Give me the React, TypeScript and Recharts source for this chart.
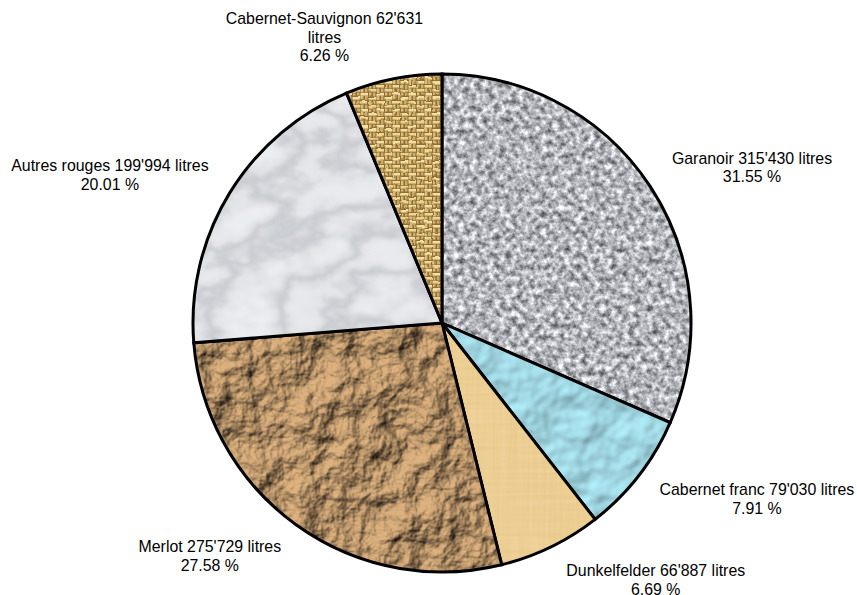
import React from "react";
import { PieChart, Pie, Cell } from "recharts";

const names = ["Garanoir", "Cabernet franc", "Dunkelfelder", "Merlot", "Autres rouges", "Cabernet-Sauvignon"];
const litres = [315430, 79030, 66887, 275729, 199994, 62631];
const percents = ["31.55 %", "7.91 %", "6.69 %", "27.58 %", "20.01 %", "6.26 %"];
const textures = ["granite", "water", "linen", "kraft", "marble", "burlap"];

const W = 857;
const H = 595;
const RAD = Math.PI / 180;
const FONT = 15.9;
const LINE = 18.7;
const FAMILY = "Liberation Sans, Arial, sans-serif";

const data = names.map((name, i) => ({ name, value: litres[i] }));
const clamp = (v: number, a: number, b: number) => Math.min(b, Math.max(a, v));

function wrap(s: string, max = 30): string[] {
  const out: string[] = [];
  let cur = "";
  for (const w of s.split(" ")) {
    if (cur && (cur + " " + w).length > max) {
      out.push(cur);
      cur = w;
    } else cur = cur ? cur + " " + w : w;
  }
  if (cur) out.push(cur);
  return out;
}

const fmt = (n: number) => String(n).replace(/\B(?=(\d{3})+$)/g, "'");

function textWidth(s: string): number {
  const ctx = document.createElement("canvas").getContext("2d");
  if (!ctx) return s.length * FONT * 0.5;
  ctx.font = `${FONT}px ${FAMILY}`;
  return ctx.measureText(s).width;
}

function renderLabel(p: any) {
  const { cx, cy, outerRadius, midAngle, index } = p;
  const r = outerRadius + 21;
  const s = Math.cos(midAngle * RAD);
  const c = Math.sin(midAngle * RAD);
  const px = cx + r * s;
  const py = cy - r * c;
  const head = wrap(`${names[index]} ${fmt(litres[index])} litres`);
  const lines = [...head, percents[index]];
  const w = Math.max(...lines.map(textWidth));
  const h = lines.length * LINE;
  const f = clamp(0.5 - s * 1.6, 0, 1);
  const g = Math.max(0.1, 0.45 + 0.42 * c);
  const gap = s > 0 ? 9 - 6 * s : -3;
  const center = px + gap + w * (0.5 - f);
  const top = py - h * g;
  return (
    <text key={index} x={center} y={top} textAnchor="middle" fontFamily={FAMILY} fontSize={FONT} fill="#000">
      {lines.map((l, i) => (
        <tspan key={i} x={center} y={top + 14 + i * LINE}>
          {l}
        </tspan>
      ))}
    </text>
  );
}

function Full({ id, filter, fill = "#fff" }: { id: string; filter: string; fill?: string }) {
  return (
    <pattern id={id} patternUnits="userSpaceOnUse" width={W} height={H}>
      <rect x={0} y={0} width={W} height={H} fill={fill} filter={`url(#${filter})`} />
    </pattern>
  );
}

const region = { x: 0, y: 0, width: W, height: H, filterUnits: "userSpaceOnUse" as const, colorInterpolationFilters: "sRGB" as const };

export default function App() {
  return (
    <div style={{ position: "absolute", left: 0, top: 0, width: W, height: H, background: "#fff" }}>
      <PieChart width={W} height={H} margin={{ top: 0, right: 0, bottom: 0, left: 0 }}>
        <defs>
          <filter id="fGranite" {...region}>
            <feTurbulence type="fractalNoise" baseFrequency="0.17" numOctaves={4} seed={7} />
            <feColorMatrix type="matrix" values="1.05 0 0 0 0.17  1.05 0 0 0 0.18  1.05 0 0 0 0.2  0 0 0 0 1" />
            <feGaussianBlur stdDeviation="0.55" />
          </filter>
          <filter id="fWater" {...region}>
            <feTurbulence type="fractalNoise" baseFrequency="0.035" numOctaves={3} seed={12} result="n" />
            <feDiffuseLighting in="n" surfaceScale={3.5} diffuseConstant={1.1} lightingColor="#a4dce8">
              <feDistantLight azimuth={235} elevation={62} />
            </feDiffuseLighting>
            <feGaussianBlur stdDeviation="0.8" />
          </filter>
          <filter id="fLinen" {...region}>
            <feTurbulence type="fractalNoise" baseFrequency="0.3 0.01" numOctaves={2} seed={3} result="a" />
            <feTurbulence type="fractalNoise" baseFrequency="0.01 0.3" numOctaves={2} seed={8} result="b" />
            <feBlend in="a" in2="b" mode="multiply" />
            <feColorMatrix type="matrix" values="0.05 0 0 0 0.905  0.08 0 0 0 0.775  0.14 0 0 0 0.52  0 0 0 0 1" />
          </filter>
          <filter id="fKraft" {...region}>
            <feTurbulence type="fractalNoise" baseFrequency="0.024" numOctaves={5} seed={21} result="n" />
            <feDiffuseLighting in="n" surfaceScale={12} diffuseConstant={1.08} lightingColor="#cfa676">
              <feDistantLight azimuth={225} elevation={55} />
            </feDiffuseLighting>
            <feGaussianBlur stdDeviation="0.6" />
          </filter>
          <filter id="fMarble" {...region}>
            <feTurbulence type="fractalNoise" baseFrequency="0.014 0.024" numOctaves={6} seed={9} />
            <feColorMatrix type="matrix" values="1 0 0 0 0  1 0 0 0 0  1 0 0 0 0  0 0 0 0 1" />
            <feComponentTransfer>
              <feFuncR type="table" tableValues="0.91 0.91 0.91 0.89 0.79 0.88 0.92 0.93 0.93" />
              <feFuncG type="table" tableValues="0.92 0.92 0.92 0.9 0.8 0.89 0.93 0.94 0.94" />
              <feFuncB type="table" tableValues="0.93 0.93 0.93 0.91 0.82 0.9 0.94 0.95 0.95" />
            </feComponentTransfer>
            <feGaussianBlur stdDeviation="1" />
          </filter>
          <filter id="fSoft" {...region}>
            <feTurbulence type="fractalNoise" baseFrequency="0.12" numOctaves={2} seed={4} result="n" />
            <feDisplacementMap in="SourceGraphic" in2="n" scale={3} xChannelSelector="R" yChannelSelector="G" />
            <feGaussianBlur stdDeviation="0.6" />
          </filter>

          <Full id="granite" filter="fGranite" />
          <Full id="water" filter="fWater" />
          <Full id="linen" filter="fLinen" />
          <Full id="kraft" filter="fKraft" />
          <Full id="marble" filter="fMarble" />

          <pattern id="weave" patternUnits="userSpaceOnUse" width={16} height={16}>
            <rect width={16} height={16} fill="#8f6f38" />
            <rect x={0.5} y={1} width={8} height={2.6} fill="#f4dea0" />
            <rect x={8.5} y={5} width={8} height={2.6} fill="#f0d894" />
            <rect x={0.5} y={9} width={8} height={2.6} fill="#ecd28e" />
            <rect x={8.5} y={13} width={8} height={2.6} fill="#f4dea0" />
            <rect x={9} y={0} width={2.4} height={4} fill="#dcbc78" />
            <rect x={13} y={0} width={2.4} height={4} fill="#ccac68" />
            <rect x={1} y={4.5} width={2.4} height={4} fill="#dcbc78" />
            <rect x={5} y={4.5} width={2.4} height={4} fill="#ccac68" />
            <rect x={9} y={8.5} width={2.4} height={4} fill="#dcbc78" />
            <rect x={13} y={8.5} width={2.4} height={4} fill="#ccac68" />
            <rect x={1} y={12.5} width={2.4} height={3} fill="#dcbc78" />
            <rect x={5} y={12.5} width={2.4} height={3} fill="#ccac68" />
          </pattern>
          <pattern id="burlap" patternUnits="userSpaceOnUse" width={W} height={H}>
            <rect width={W} height={H} fill="url(#weave)" filter="url(#fSoft)" />
          </pattern>
        </defs>
        <Pie
          data={data}
          dataKey="value"
          nameKey="name"
          cx={442}
          cy={323}
          outerRadius={249}
          startAngle={90}
          endAngle={-270}
          stroke="#000"
          strokeWidth={3}
          label={renderLabel}
          labelLine={false}
          isAnimationActive={false}
        >
          {textures.map((t) => (
            <Cell key={t} fill={`url(#${t})`} stroke="#000" strokeWidth={3} />
          ))}
        </Pie>
      </PieChart>
    </div>
  );
}
